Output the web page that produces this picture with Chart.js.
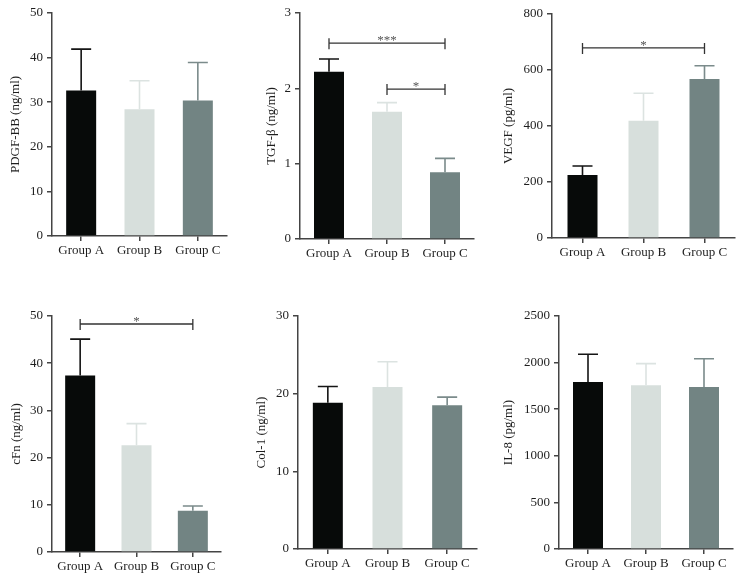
<!DOCTYPE html>
<html><head><meta charset="utf-8">
<script src="https://cdn.jsdelivr.net/npm/chart.js@4/dist/chart.umd.min.js"></script>
<style>
html,body{margin:0;padding:0;background:#fff;width:745px;height:583px;overflow:hidden;position:relative}
canvas{position:absolute}
</style></head><body>
<canvas id="c1"></canvas><canvas id="c2"></canvas><canvas id="c3"></canvas>
<canvas id="c4"></canvas><canvas id="c5"></canvas><canvas id="c6"></canvas>
<script>
// ---- data ----
const groups = ['Group A', 'Group B', 'Group C'];

const pdgfMean = [32.6, 28.4, 30.4];
const pdgfErr  = [9.3, 6.4, 8.5];

const tgfMean = [2.22, 1.69, 0.885];
const tgfErr  = [0.17, 0.12, 0.185];
const tgfSig  = [{from: 0, to: 2, level: 2.6, label: '***'}, {from: 1, to: 2, level: 1.99, label: '*'}];

const vegfMean = [225, 419, 568];
const vegfErr  = [32, 98, 47];
const vegfSig  = [{from: 0, to: 2, level: 679, label: '*'}];

const cfnMean = [37.4, 22.6, 8.76];
const cfnErr  = [7.7, 4.6, 1.0];
const cfnSig  = [{from: 0, to: 2, level: 48.3, label: '*'}];

const col1Mean = [18.83, 20.85, 18.5];
const col1Err  = [2.1, 3.25, 1.06];

const il8Mean = [1792, 1756, 1738];
const il8Err  = [297, 233, 304];

// ---- styles ----
const barColors = ['#070a09', '#d7dfdc', '#728483'];
const errColors = ['#151515', '#dce3e1', '#7b8b8b'];
const axisColor = '#444';
const textColor = '#1e1e1e';
const FONT = "'Liberation Serif', 'Times New Roman', serif";

const extrasPlugin = {
  id: 'extras',
  afterDatasetsDraw(chart, args, opts) {
    const ctx = chart.ctx;
    const xs = chart.scales.x, ys = chart.scales.y;
    ctx.save();
    // error bars (upper only)
    opts.mean.forEach((m, i) => {
      const x = xs.getPixelForValue(i);
      const y0 = ys.getPixelForValue(m);
      const y1 = ys.getPixelForValue(m + opts.err[i]);
      ctx.strokeStyle = errColors[i];
      ctx.lineWidth = 1.6;
      ctx.beginPath();
      ctx.moveTo(x, y0); ctx.lineTo(x, y1);
      ctx.moveTo(x - 10, y1); ctx.lineTo(x + 10, y1);
      ctx.stroke();
    });
    // significance brackets
    (opts.sig || []).forEach(s => {
      const xa = xs.getPixelForValue(s.from);
      const xb = xs.getPixelForValue(s.to);
      const y = ys.getPixelForValue(s.level);
      ctx.strokeStyle = '#333';
      ctx.lineWidth = 1.3;
      ctx.beginPath();
      ctx.moveTo(xa, y); ctx.lineTo(xb, y);
      ctx.moveTo(xa, y - 5); ctx.lineTo(xa, y + 6);
      ctx.moveTo(xb, y - 5); ctx.lineTo(xb, y + 6);
      ctx.stroke();
      ctx.fillStyle = '#555';
      ctx.font = '13px ' + FONT;
      ctx.textAlign = 'center';
      ctx.textBaseline = 'alphabetic';
      ctx.fillText(s.label, (xa + xb) / 2, y + 1);
    });
    ctx.restore();
  }
};
Chart.register(extrasPlugin);

const panels = [
  {id: 'c1', title: 'PDGF-BB (ng/ml)', mean: pdgfMean, err: pdgfErr, sig: [], max: 50, step: 10,
   box: {x: 0, y: 0, w: 248, h: 270}, yw: 52, xh: 34, pt: 13, pr: 21, tx: 15.5},
  {id: 'c2', title: 'TGF-β (ng/ml)', mean: tgfMean, err: tgfErr, sig: tgfSig, max: 3, step: 1,
   box: {x: 248, y: 0, w: 248, h: 270}, yw: 52, xh: 31, pt: 13, pr: 22, tx: 23.5},
  {id: 'c3', title: 'VEGF (pg/ml)', mean: vegfMean, err: vegfErr, sig: vegfSig, max: 800, step: 200,
   box: {x: 496, y: 0, w: 249, h: 270}, yw: 56, xh: 32, pt: 14, pr: 10, tx: 13},
  {id: 'c4', title: 'cFn (ng/ml)', mean: cfnMean, err: cfnErr, sig: cfnSig, max: 50, step: 10,
   box: {x: 0, y: 290, w: 248, h: 293}, yw: 52, xh: 31, pt: 26, pr: 27, tx: 17},
  {id: 'c5', title: 'Col-1 (ng/ml)', mean: col1Mean, err: col1Err, sig: [], max: 30, step: 10,
   box: {x: 248, y: 290, w: 248, h: 293}, yw: 50, xh: 34, pt: 26, pr: 19, tx: 14},
  {id: 'c6', title: 'IL-8 (pg/ml)', mean: il8Mean, err: il8Err, sig: [], max: 2500, step: 500,
   box: {x: 496, y: 290, w: 249, h: 293}, yw: 63, xh: 34, pt: 26, pr: 12, tx: 13}
];

panels.forEach(p => {
  const cv = document.getElementById(p.id);
  cv.width = p.box.w; cv.height = p.box.h;
  cv.style.left = p.box.x + 'px'; cv.style.top = p.box.y + 'px';
  cv.style.width = p.box.w + 'px'; cv.style.height = p.box.h + 'px';
  const plotW = p.box.w - p.yw - p.pr;
  const barPct = 30 / (plotW / 3);
  new Chart(cv, {
    type: 'bar',
    data: {
      labels: groups,
      datasets: [{data: p.mean, backgroundColor: barColors, borderWidth: 0,
                  categoryPercentage: 1, barPercentage: barPct}]
    },
    options: {
      responsive: false, animation: false,
      layout: {padding: {top: p.pt, right: p.pr, left: 0, bottom: 0}},
      plugins: {
        legend: {display: false}, tooltip: {enabled: false},
        extras: {mean: p.mean, err: p.err, sig: p.sig}
      },
      scales: {
        x: {
          offset: true,
          grid: {display: true, drawOnChartArea: false, drawTicks: true, tickLength: 5,
                 offset: false, color: axisColor, lineWidth: 1.5},
          border: {display: true, color: axisColor, width: 1.5},
          ticks: {color: textColor, font: {family: FONT, size: 13}, padding: 2, maxRotation: 0},
          afterFit: s => { s.height = p.xh; }
        },
        y: {
          min: 0, max: p.max,
          grid: {display: true, drawOnChartArea: false, drawTicks: true, tickLength: 5,
                 color: axisColor, lineWidth: 1.5},
          border: {display: true, color: axisColor, width: 1.5},
          ticks: {stepSize: p.step, color: textColor, font: {family: FONT, size: 13}, padding: 4,
                  callback: v => String(v)},
          title: {display: true, text: p.title, color: textColor,
                  font: {family: FONT, size: 13}, padding: {top: p.tx - 7.8, bottom: 0}},
          afterFit: s => { s.width = p.yw; }
        }
      }
    }
  });
});
</script>
</body></html>
